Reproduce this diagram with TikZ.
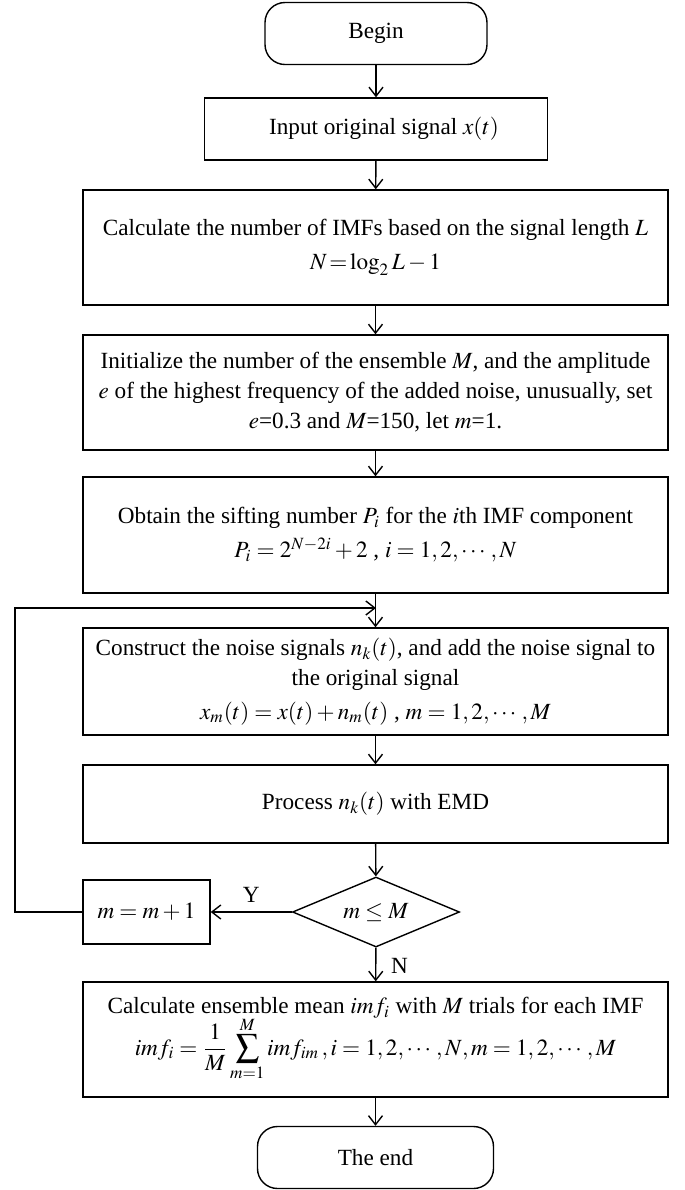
\documentclass[tikz,border=0pt]{standalone}
\usepackage{amsmath}
\usepackage{mathptmx}
\usepackage[no-math]{fontspec}
\setmainfont{Liberation Serif}
\usetikzlibrary{arrows.meta, shapes.geometric, positioning}

\begin{document}
\begin{tikzpicture}[x=0.5pt, y=-0.5pt, font=\fontsize{11.6}{15}\selectfont,
	term/.style={rectangle, rounded corners=10pt, draw, line width=0.7pt, minimum width=111pt, minimum height=31pt, inner sep=0pt},
	proc/.style={rectangle, draw, line width=0.7pt, minimum width=292.5pt, inner sep=1pt, align=center},
	dec/.style={diamond, draw, line width=0.7pt, minimum width=83.5pt, minimum height=35pt, inner sep=0pt, aspect=2.4},
	fl/.style={-{Straight Barb[length=4.5pt, width=7pt]}, line width=0.7pt}]
	\useasboundingbox (0,0) rectangle (685,1190);

	\node[term] (bg) at (376, 33.5) {Begin};
	\node[proc, minimum width=171.5pt, minimum height=31pt] (inp) at (376, 129) {\hspace{8pt}Input original signal $x(t)$};
	\node[proc, minimum height=57.5pt] (nimf) at (375.5, 247.5) {Calculate the number of IMFs based on the signal length $L$\\[2pt] $N\!=\!\log_2 L-1$};
	\node[proc, minimum height=57.5pt] (ini) at (375.5, 392.5) {Initialize the number of the ensemble $M$, and the amplitude\\ $e$ of the highest frequency of the added noise, unusually, set\\ $e$=0.3 and $M$=150, let $m$=1.};
	\node[proc, minimum height=58pt] (sift) at (375.5, 535) {Obtain the sifting number $P_i$ for the $i$th IMF component\\[2pt] $P_i=2^{N-2i}+2$ , $i=1,2,\cdots,N$};
	\node[proc, minimum height=53.5pt] (noise) at (375.5, 681.5) {Construct the noise signals $n_k(t)$, and add the noise signal to\\ the original signal\\[2pt] $x_m(t)=x(t)+n_m(t)$ , $m=1,2,\cdots,M$};
	\node[proc, minimum height=39pt] (emd) at (375.5, 804) {Process $n_k(t)$ with EMD};
	\node[dec] (chk) at (376, 912) {$m\le M$};
	\node[proc, minimum width=63.5pt, minimum height=32pt] (inc) at (146.5, 912) {$m=m+1$};
	\node[proc, minimum height=57.5pt] (mean) at (375.5, 1039.5) {Calculate ensemble mean $imf_i$ with $M$ trials for each IMF\\[-2pt] $\displaystyle imf_i=\frac{1}{M}\sum_{m=1}^{M} imf_{im}\,, i=1,2,\cdots,N, m=1,2,\cdots,M$};
	\node[term, minimum width=118pt] (fin) at (375.5, 1157.5) {The end};

	\coordinate (lp) at (376, 608);

	\foreach \a/\b in {bg/inp, inp/nimf, nimf/ini, ini/sift, noise/emd, emd/chk, mean/fin}
		\draw[fl] (\a) -- (\b);
	\draw[fl] (sift) -- (noise);
	\draw[fl] (chk) -- node[above, yshift=1pt] {Y} (inc);
	\draw[fl] (chk) -- node[right, pos=0.55, xshift=4pt] {N} (mean);
	\draw[fl] (inc.west) -- (15, 912) -- (15, 608) -- (lp);
\end{tikzpicture}
\end{document}
